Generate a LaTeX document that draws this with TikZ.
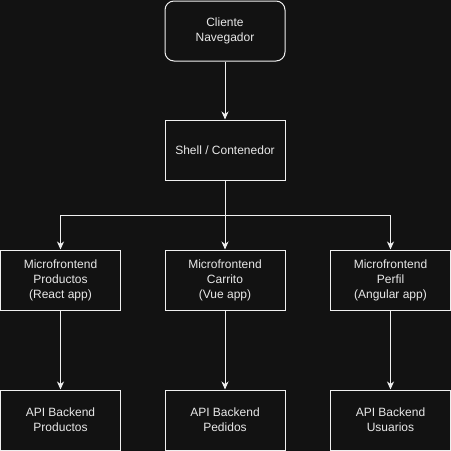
\documentclass[tikz,border=0pt]{standalone}
\usepackage{fontspec}
\setmainfont{Liberation Sans}
\usetikzlibrary{arrows.meta}
\definecolor{bg-color}{HTML}{121212}
\definecolor{line-color}{HTML}{F0F0F0}
\definecolor{text-color}{HTML}{E8E8E8}

\begin{document}
\begin{tikzpicture}[
    x=1pt, y=-1pt,
    box/.style={rectangle,draw=line-color,line width=1pt,minimum width=120pt,minimum height=60pt,
        align=center,text=text-color,font=\fontsize{12}{15}\selectfont,inner sep=0pt},
    rbox/.style={box,rounded corners=9pt},
    link/.style={draw=line-color,line width=1pt,-{Stealth[length=8pt,width=7pt,inset=2.5pt]}}
]
\fill[bg-color] (0,0) rectangle (451,451);
\useasboundingbox (0,0) rectangle (451,451);
\node[rbox] (cliente) at (225,31) {Cliente\\Navegador};
\node[box] (shell) at (225,150) {Shell / Contenedor};
\node[box] (mfproductos) at (60.5,280) {Microfrontend\\Productos\\(React app)};
\node[box] (mfcarrito) at (225,280) {Microfrontend\\Carrito\\(Vue app)};
\node[box] (mfperfil) at (390.5,280) {Microfrontend\\Perfil\\(Angular app)};
\node[box] (apiproductos) at (60.5,420) {API Backend\\Productos};
\node[box] (apipedidos) at (225,420) {API Backend\\Pedidos};
\node[box] (apiusuarios) at (390.5,420) {API Backend\\Usuarios};
\coordinate (split) at (225,215);
\draw[link] (cliente) -- (shell);
\draw[link] (shell) -- (split) -| (mfproductos);
\draw[link] (shell) -- (mfcarrito);
\draw[link] (split) -| (mfperfil);
\draw[link] (mfproductos) -- (apiproductos);
\draw[link] (mfcarrito) -- (apipedidos);
\draw[link] (mfperfil) -- (apiusuarios);
\end{tikzpicture}
\end{document}
